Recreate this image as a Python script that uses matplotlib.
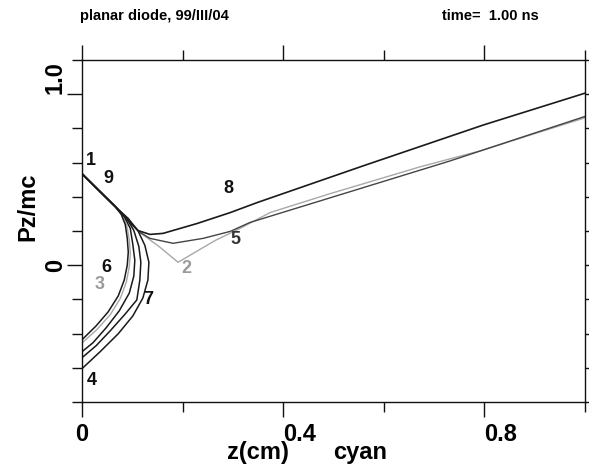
import matplotlib
matplotlib.use("Agg")
import matplotlib.pyplot as plt

plt.rcParams['font.family'] = ['Liberation Sans', 'DejaVu Sans']
plt.rcParams['font.weight'] = 'bold'

# curves (z in cm, Pz/mc)
# fan of backward curves, inner to outer
zA = [0, 0.036, 0.066, 0.078, 0.086, 0.090, 0.092, 0.090, 0.084, 0.072, 0.052, 0.028, 0]
pA = [0.535, 0.430, 0.343, 0.297, 0.238, 0.157, 0.076, 0.0, -0.087, -0.180, -0.273, -0.355, -0.436]
zG = [0, 0.036, 0.066, 0.080, 0.089, 0.094, 0.096, 0.094, 0.088, 0.076, 0.056, 0.030, 0]
pG = [0.535, 0.430, 0.343, 0.293, 0.232, 0.150, 0.068, -0.010, -0.100, -0.195, -0.290, -0.375, -0.455]
zB = [0, 0.036, 0.066, 0.084, 0.096, 0.101, 0.105, 0.103, 0.094, 0.074, 0.048, 0.022, 0]
pB = [0.535, 0.430, 0.343, 0.285, 0.215, 0.122, 0.029, -0.064, -0.163, -0.267, -0.366, -0.453, -0.506]
zC = [0, 0.036, 0.066, 0.088, 0.103, 0.113, 0.117, 0.115, 0.109, 0.086, 0.056, 0.028, 0]
pC = [0.535, 0.430, 0.343, 0.279, 0.203, 0.110, 0.017, -0.087, -0.203, -0.285, -0.384, -0.471, -0.541]
zD = [0, 0.036, 0.066, 0.092, 0.111, 0.125, 0.133, 0.131, 0.121, 0.101, 0.072, 0.036, 0]
pD = [0.535, 0.430, 0.343, 0.273, 0.203, 0.116, 0.017, -0.087, -0.192, -0.297, -0.401, -0.506, -0.605]

# forward going curves
z8 = [0, 0.036, 0.066, 0.092, 0.111, 0.135, 0.161, 0.229, 0.295, 0.348, 0.559, 0.798, 1.0]
p8 = [0.535, 0.430, 0.343, 0.262, 0.203, 0.180, 0.186, 0.244, 0.308, 0.366, 0.581, 0.820, 1.006]
z5 = [0, 0.036, 0.066, 0.092, 0.115, 0.135, 0.181, 0.241, 0.295, 0.334, 0.553, 0.732, 1.0]
p5 = [0.535, 0.430, 0.343, 0.262, 0.192, 0.157, 0.128, 0.157, 0.198, 0.250, 0.448, 0.610, 0.870]
z2 = [0, 0.036, 0.066, 0.092, 0.115, 0.155, 0.191, 0.225, 0.265, 0.314, 0.374, 0.494, 0.673, 0.792, 1.0]
p2 = [0.535, 0.430, 0.343, 0.256, 0.192, 0.105, 0.017, 0.076, 0.145, 0.215, 0.308, 0.419, 0.576, 0.669, 0.862]

# curve numbers: label, z, p, colour
labels = ['1', '9', '8', '5', '2', '6', '3', '7', '4']
lab_z = [0.018, 0.052, 0.291, 0.306, 0.207, 0.048, 0.036, 0.131, 0.020]
lab_p = [0.610, 0.506, 0.448, 0.151, -0.017, -0.012, -0.110, -0.203, -0.674]
lab_c = ['#111111', '#111111', '#111111', '#333333', '#9a9a9a', '#111111', '#9a9a9a', '#111111', '#111111']

black = '#1a1a1a'
gray = '#a8a8a8'

fig = plt.figure(figsize=(5.89, 4.70), dpi=100)
ax = fig.add_axes([82/589, 1-402/470, 503/589, 342/470])

ax.plot(z2, p2, color=gray, lw=1.0)
ax.plot(zG, pG, color=gray, lw=1.0)
for zz, pp in [(zA, pA), (zB, pB), (zC, pC), (zD, pD)]:
    ax.plot(zz, pp, color=black, lw=1.1)
ax.plot(z5, p5, color='#444444', lw=1.0)
ax.plot(z8, p8, color=black, lw=1.2)

for t, x, y, c in zip(labels, lab_z, lab_p, lab_c):
    ax.text(x, y, t, color=c, fontsize=13, fontweight='bold', ha='center', va='center')

ax.set_xlim(0, 1.0)
ax.set_ylim(-0.8, 1.2)

ax.set_xticks([0, 0.4, 0.8])
ax.set_xticks([0.2, 0.6, 1.0], minor=True)
ax.set_xticklabels(['0', '0.4', '0.8'])
ax.set_yticks([0, 1.0])
ax.set_yticks([-0.8, -0.6, -0.4, -0.2, 0.2, 0.4, 0.6, 0.8, 1.2], minor=True)
ax.set_yticklabels(['0', '1.0'], rotation=90)

ax.tick_params(which='both', direction='out', top=True, right=True, width=1.0, color='#111111')
ax.tick_params(which='major', length=11)
ax.tick_params(which='minor', length=7)
ax.tick_params(axis='x', which='major', labelsize=17, pad=4)
ax.tick_params(axis='y', which='major', labelsize=17, pad=0)

for lab in ax.get_xticklabels()[1:]:
    lab.set_horizontalalignment('left')
ylabs = ax.get_yticklabels()
ylabs[0].set_verticalalignment('center')
ylabs[1].set_verticalalignment('bottom')
for lab in ax.get_xticklabels() + ylabs:
    lab.set_fontweight('bold')

for s in ax.spines.values():
    s.set_linewidth(1.0)
    s.set_color('#111111')

fig.text(28/589, 1-207/470, 'Pz/mc', rotation=90, fontsize=17, fontweight='bold', ha='center', va='center')
fig.text(258/589, 1-453/470, 'z(cm)', fontsize=17, fontweight='bold', ha='center', va='center')
fig.text(360/589, 1-453/470, 'cyan', fontsize=17, fontweight='bold', ha='center', va='center')
fig.text(80/589, 1-16/470, 'planar diode, 99/III/04', fontsize=10.5, fontweight='bold', ha='left', va='center')
fig.text(442/589, 1-16/470, 'time=  1.00 ns', fontsize=10.5, fontweight='bold', ha='left', va='center')

fig.savefig('out.png', dpi=100)
